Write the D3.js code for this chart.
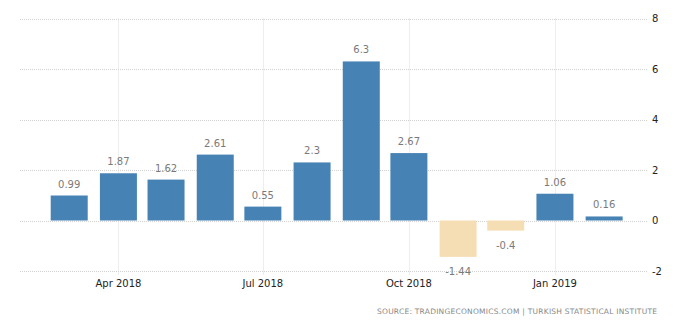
<!DOCTYPE html>
<html>
<head>
<meta charset="utf-8">
<script src="https://cdn.jsdelivr.net/npm/d3@7"></script>
<style>
  html, body { margin: 0; padding: 0; background: #fff; }
  svg { display: block; }
</style>
</head>
<body>
<svg id="chart" width="700" height="326"></svg>
<script>
// ---- data ----
const months = ["2018-03","2018-04","2018-05","2018-06","2018-07","2018-08","2018-09","2018-10","2018-11","2018-12","2019-01","2019-02"];
const values = [0.99, 1.87, 1.62, 2.61, 0.55, 2.3, 6.3, 2.67, -1.44, -0.4, 1.06, 0.16];
const yTicks = [-2, 0, 2, 4, 6, 8];
const xTickMonths = ["2018-04","2018-07","2018-10","2019-01"];
const sourceText = "SOURCE: TRADINGECONOMICS.COM | TURKISH STATISTICAL INSTITUTE";

(function () {
const parse = d3.timeParse("%Y-%m");
const data = months.map((m, i) => ({ date: parse(m), value: values[i] }));

const svg = d3.select("#chart");
const pLeft = 20, pRight = 647, pTop = 18.5, pBottom = 271;
const font = "'DejaVu Sans', Verdana, sans-serif";

const x = d3.scaleTime()
  .domain([new Date(2018, 0, 29), new Date(2019, 1, 28)])
  .range([pLeft, pRight]);
const y = d3.scaleLinear().domain([-2, 8]).range([pBottom, pTop]);

const barW = 37;

// horizontal grid
svg.append("g").selectAll("line").data(yTicks).join("line")
  .attr("x1", pLeft).attr("x2", pRight)
  .attr("y1", d => Math.round(y(d)) + 0.5).attr("y2", d => Math.round(y(d)) + 0.5)
  .attr("stroke", "#d2d2d2").attr("stroke-dasharray", "1,1");

// vertical grid
const xTicks = xTickMonths.map(parse);
svg.append("g").selectAll("line").data(xTicks).join("line")
  .attr("x1", d => Math.round(x(d)) + 0.5).attr("x2", d => Math.round(x(d)) + 0.5)
  .attr("y1", pTop).attr("y2", pBottom + 4)
  .attr("stroke", "#dcdcdc").attr("stroke-dasharray", "1,1");

// bars
svg.append("g").selectAll("rect").data(data).join("rect")
  .attr("x", d => x(d.date) - barW / 2)
  .attr("width", barW)
  .attr("y", d => y(Math.max(0, d.value)))
  .attr("height", d => Math.abs(y(d.value) - y(0)))
  .attr("fill", d => d.value >= 0 ? "#4682b4" : "#f5deb3");

// value labels
svg.append("g").selectAll("text").data(data).join("text")
  .attr("x", d => x(d.date))
  .attr("y", d => d.value >= 0 ? y(d.value) - 8 : y(d.value) + 18)
  .attr("text-anchor", "middle")
  .attr("font-family", font).attr("font-size", 10)
  .attr("fill", "#7a7a7a")
  .text(d => String(d.value));

// x axis labels
svg.append("g").selectAll("text").data(xTicks).join("text")
  .attr("x", d => x(d))
  .attr("y", 286.5)
  .attr("text-anchor", "middle")
  .attr("font-family", font).attr("font-size", 10)
  .attr("fill", "#222")
  .text(d3.timeFormat("%b %Y"));

// y axis labels (right)
svg.append("g").selectAll("text").data(yTicks).join("text")
  .attr("x", 652)
  .attr("y", d => y(d) + 3.5)
  .attr("text-anchor", "start")
  .attr("font-family", font).attr("font-size", 10)
  .attr("fill", "#222")
  .text(d => String(d));

// source
svg.append("text")
  .attr("x", 657).attr("y", 314)
  .attr("text-anchor", "end")
  .attr("font-family", font).attr("font-size", 7.5)
  .attr("fill", "#888")
  .attr("textLength", 280).attr("lengthAdjust", "spacing")
  .text(sourceText);
})();
</script>
</body>
</html>
